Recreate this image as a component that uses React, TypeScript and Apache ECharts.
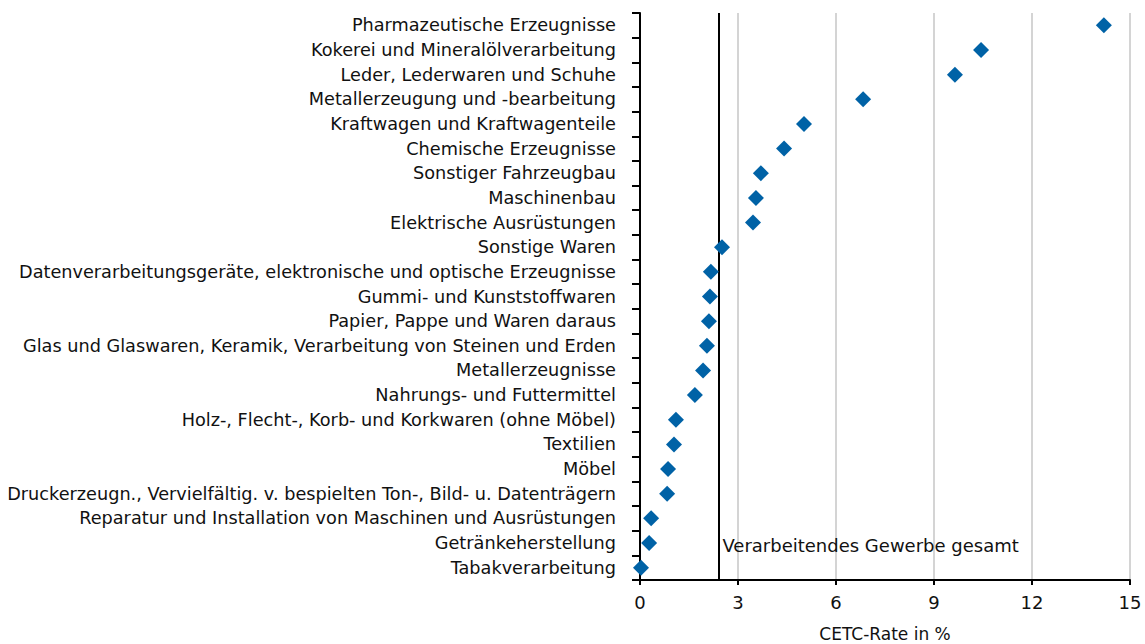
import React, { useEffect, useRef } from "react";
import * as echarts from "echarts";

const categories = [
  "Pharmazeutische Erzeugnisse",
  "Kokerei und Mineralölverarbeitung",
  "Leder, Lederwaren und Schuhe",
  "Metallerzeugung und -bearbeitung",
  "Kraftwagen und Kraftwagenteile",
  "Chemische Erzeugnisse",
  "Sonstiger Fahrzeugbau",
  "Maschinenbau",
  "Elektrische Ausrüstungen",
  "Sonstige Waren",
  "Datenverarbeitungsgeräte, elektronische und optische Erzeugnisse",
  "Gummi- und Kunststoffwaren",
  "Papier, Pappe und Waren daraus",
  "Glas und Glaswaren, Keramik, Verarbeitung von Steinen und Erden",
  "Metallerzeugnisse",
  "Nahrungs- und Futtermittel",
  "Holz-, Flecht-, Korb- und Korkwaren (ohne Möbel)",
  "Textilien",
  "Möbel",
  "Druckerzeugn., Vervielfältig. v. bespielten Ton-, Bild- u. Datenträgern",
  "Reparatur und Installation von Maschinen und Ausrüstungen",
  "Getränkeherstellung",
  "Tabakverarbeitung",
];

const values = [
  14.2, 10.44, 9.64, 6.83, 5.02, 4.41, 3.7, 3.55, 3.46, 2.51, 2.17, 2.14, 2.11,
  2.05, 1.93, 1.68, 1.1, 1.04, 0.86, 0.83, 0.34, 0.28, 0.03,
];

const totalValue = 2.4;
const totalLabel = "Verarbeitendes Gewerbe gesamt";
const totalLabelRow = "Getränkeherstellung";
const xAxisName = "CETC-Rate in %";

const FONT = "'DejaVu Sans', sans-serif";
const TEXT = "#111";

export default function App() {
  const ref = useRef<HTMLDivElement>(null);
  useEffect(() => {
    document.body.style.margin = "0";
    if (!ref.current) return;
    const chart = echarts.init(ref.current, undefined, { renderer: "svg" });
    chart.setOption({
      animation: false,
      grid: {
        left: 640,
        right: 15,
        top: 13,
        bottom: 64,
        containLabel: false,
        outerBoundsMode: "none",
      },
      xAxis: {
        type: "value",
        min: 0,
        max: 15,
        interval: 3,
        name: xAxisName,
        nameLocation: "middle",
        nameGap: 45,
        nameTextStyle: { fontFamily: FONT, fontSize: 17, color: TEXT },
        axisLine: { show: true, lineStyle: { color: "#000", width: 2 } },
        axisTick: { show: true, length: 5, lineStyle: { color: "#000", width: 2 } },
        axisLabel: { fontFamily: FONT, fontSize: 18, color: TEXT, margin: 13 },
        splitLine: { show: true, lineStyle: { color: "#d4d4d4", width: 2 } },
      },
      yAxis: {
        type: "category",
        inverse: true,
        data: categories,
        axisLine: { show: true, lineStyle: { color: "#000", width: 2 } },
        axisTick: { show: true, length: 8, lineStyle: { color: "#000", width: 2 } },
        axisLabel: { fontFamily: FONT, fontSize: 17.7, color: TEXT, margin: 24 },
        splitLine: { show: false },
      },
      series: [
        {
          type: "scatter",
          symbol: "diamond",
          symbolSize: 16,
          itemStyle: { color: "#0062a6", opacity: 1 },
          data: values.map((v, i) => [v, categories[i]]),
          z: 5,
        },
        {
          type: "scatter",
          symbolSize: 0,
          itemStyle: { opacity: 1 },
          data: [[totalValue, totalLabelRow]],
          label: {
            show: true,
            position: "right",
            distance: 4,
            formatter: totalLabel,
            fontFamily: FONT,
            fontSize: 18,
            color: TEXT,
            offset: [0, 2],
          },
          markLine: {
            silent: true,
            symbol: "none",
            label: { show: false },
            lineStyle: { color: "#000", width: 2, type: "solid" },
            data: [{ xAxis: totalValue }],
          },
          z: 3,
        },
      ],
    });
    return () => chart.dispose();
  }, []);
  return <div ref={ref} style={{ width: 1145, height: 644 }} />;
}
